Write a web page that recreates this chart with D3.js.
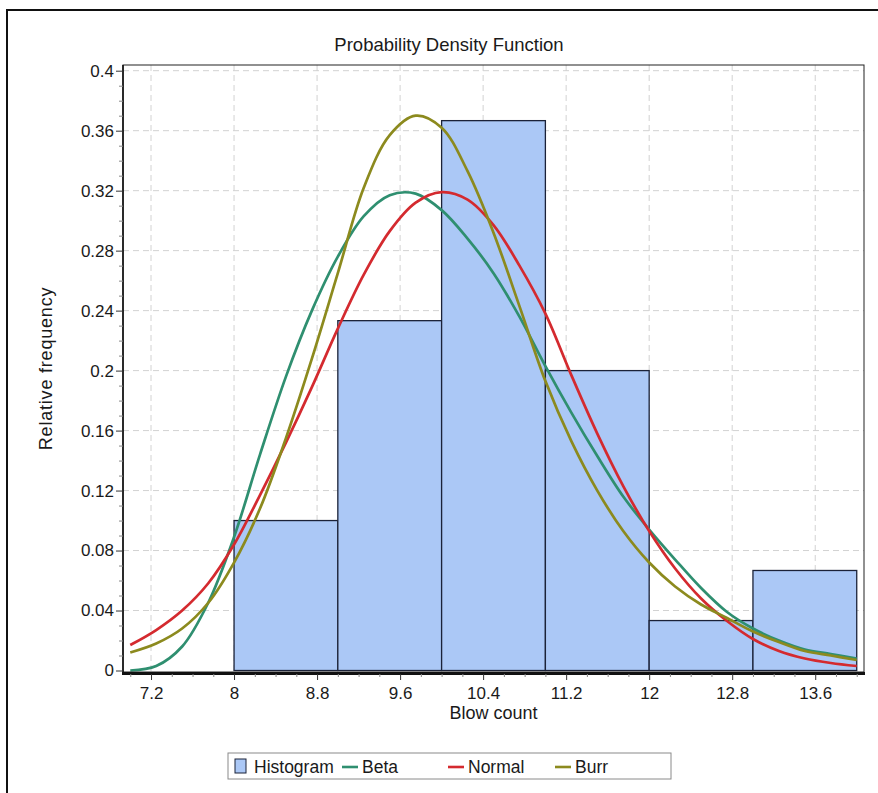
<!DOCTYPE html>
<html>
<head>
<meta charset="utf-8">
<script src="https://cdn.jsdelivr.net/npm/d3@7"></script>
<style>
  body { margin: 0; background: #fff; }
  text { font-family: "Liberation Sans", Arial, sans-serif; fill: #1a1a1a; }
</style>
</head>
<body>
<script>
// histogram bins (left edge, width 1) and relative frequencies
var binStarts = [7, 8, 9, 10, 11, 12, 13]
var binFreq = [0, 0.1, 0.2333, 0.3667, 0.2, 0.0333, 0.0667]
var binWidth = 1

// fitted density curves
var curveX = [7, 7.25, 7.5, 7.75, 8, 8.25, 8.5, 8.75, 9, 9.25, 9.5, 9.75, 10, 10.25, 10.5,
  10.75, 11, 11.25, 11.5, 11.75, 12, 12.25, 12.5, 12.75, 13, 13.25, 13.5, 13.75, 14]
var betaY = [0.000, 0.003, 0.016, 0.045, 0.089, 0.144, 0.196, 0.240, 0.276, 0.303, 0.317, 0.318, 0.307, 0.288, 0.265,
  0.236, 0.203, 0.172, 0.143, 0.116, 0.094, 0.074, 0.055, 0.039, 0.028, 0.020, 0.014, 0.011, 0.008]
var normalY = [0.017, 0.027, 0.040, 0.058, 0.084, 0.117, 0.152, 0.189, 0.228, 0.264, 0.293, 0.312, 0.319, 0.314, 0.297,
  0.270, 0.238, 0.197, 0.158, 0.123, 0.093, 0.068, 0.048, 0.033, 0.021, 0.013, 0.008, 0.005, 0.003]
var burrY = [0.012, 0.018, 0.028, 0.045, 0.072, 0.108, 0.155, 0.208, 0.265, 0.322, 0.357, 0.370, 0.362, 0.333, 0.292,
  0.243, 0.193, 0.153, 0.120, 0.093, 0.072, 0.056, 0.044, 0.035, 0.026, 0.019, 0.013, 0.010, 0.007]

var xTicks = [7.2, 8, 8.8, 9.6, 10.4, 11.2, 12, 12.8, 13.6]
var yTicks = [0, 0.04, 0.08, 0.12, 0.16, 0.2, 0.24, 0.28, 0.32, 0.36, 0.4]

var seriesNames = ['Beta', 'Normal', 'Burr']
var seriesColors = ['#2f8f70', '#d42a2f', '#8c8a1e']
var histColor = '#abc8f6'

var W = 878, H = 793
var pL = 123, pT = 65, pR = 864, pB = 672

var svg = d3.select('body').append('svg').attr('width', W).attr('height', H)

// outer frame
svg.append('rect').attr('x', 7).attr('y', 10).attr('width', 900).attr('height', 900)
  .attr('fill', '#fff').attr('stroke', '#111').attr('stroke-width', 2)

var x = d3.scaleLinear().domain([6.93, 14.07]).range([pL, pR])
var y = d3.scaleLinear().domain([-0.001, 0.4038]).range([pB, pT])

svg.append('text').attr('x', 449).attr('y', 51).attr('text-anchor', 'middle')
  .style('font-size', '18.5px').text('Probability Density Function')

// grid
var grid = svg.append('g').attr('stroke', '#d2d2d2').attr('stroke-dasharray', '6,4')
grid.selectAll('.gy').data(yTicks.filter(d => d > 0)).join('line')
  .attr('x1', pL).attr('x2', pR).attr('y1', d => y(d)).attr('y2', d => y(d))
grid.selectAll('.gx').data(xTicks).join('line')
  .attr('x1', d => x(d)).attr('x2', d => x(d)).attr('y1', pT).attr('y2', pB)

// histogram
svg.append('g').selectAll('rect')
  .data(binStarts.map((b, i) => ({ b: b, f: binFreq[i] })))
  .join('rect')
  .attr('x', d => x(d.b))
  .attr('width', d => x(d.b + binWidth) - x(d.b))
  .attr('y', d => y(d.f))
  .attr('height', d => y(0) - y(d.f))
  .attr('fill', histColor)
  .attr('stroke', '#1b2238')
  .attr('stroke-width', 1.3)

// curves
svg.append('clipPath').attr('id', 'clip').append('rect')
  .attr('x', pL).attr('y', pT).attr('width', pR - pL).attr('height', pB - pT)
var line = d3.line().x(d => x(d[0])).y(d => y(d[1])).curve(d3.curveCatmullRom.alpha(0.5))
var curves = [betaY, normalY, burrY]
svg.append('g').attr('clip-path', 'url(#clip)')
  .selectAll('path')
  .data(curves)
  .join('path')
  .attr('d', d => line(curveX.map((v, i) => [v, d[i]])))
  .attr('fill', 'none')
  .attr('stroke', (d, i) => seriesColors[i])
  .attr('stroke-width', 2.7)

// plot border
svg.append('rect').attr('x', pL).attr('y', pT).attr('width', pR - pL).attr('height', pB - pT)
  .attr('fill', 'none').attr('stroke', '#222').attr('stroke-width', 1)
svg.append('line').attr('x1', pL).attr('x2', pL).attr('y1', pT).attr('y2', pB + 3)
  .attr('stroke', '#111').attr('stroke-width', 1.6)
svg.append('line').attr('x1', pL - 1).attr('x2', pR + 1).attr('y1', pB + 1.5).attr('y2', pB + 1.5)
  .attr('stroke', '#111').attr('stroke-width', 3)

// axes
var yAxis = svg.append('g').attr('transform', 'translate(' + pL + ',0)')
  .call(d3.axisLeft(y).tickValues(yTicks).tickSize(7).tickPadding(2)
    .tickFormat(d => String(+d.toFixed(2))))
var yMinor = svg.append('g').attr('transform', 'translate(' + pL + ',0)')
  .call(d3.axisLeft(y).tickValues(d3.range(0, 0.401, 0.01).filter((d, i) => i % 4 != 0))
    .tickSize(4).tickFormat(''))
var xAxis = svg.append('g').attr('transform', 'translate(0,' + (pB + 2) + ')')
  .call(d3.axisBottom(x).tickValues(xTicks).tickSize(6).tickPadding(7)
    .tickFormat(d => String(+d.toFixed(1))))
var xMinor = svg.append('g').attr('transform', 'translate(0,' + (pB + 2) + ')')
  .call(d3.axisBottom(x).tickValues(d3.range(7, 14.01, 0.2).filter(d => xTicks.indexOf(+d.toFixed(1)) < 0))
    .tickSize(3).tickFormat(''))
;[yAxis, yMinor, xAxis, xMinor].forEach(g => {
  g.select('.domain').remove()
  g.selectAll('line').attr('stroke', '#333')
  g.selectAll('text').style('font-size', '17px').attr('fill', '#1a1a1a')
})
xMinor.selectAll('line').attr('stroke', '#888')
yMinor.selectAll('line').attr('stroke', '#888')

// axis titles
svg.append('text').attr('x', (pL + pR) / 2).attr('y', 719).attr('text-anchor', 'middle')
  .style('font-size', '18px').text('Blow count')
svg.append('text').attr('transform', 'translate(52,' + (pT + pB) / 2 + ') rotate(-90)')
  .attr('text-anchor', 'middle').style('font-size', '18px').style('letter-spacing', '0.8px')
  .text('Relative frequency')

// legend
var lg = svg.append('g')
lg.append('rect').attr('x', 228).attr('y', 753).attr('width', 443).attr('height', 26)
  .attr('fill', '#fff').attr('stroke', '#8a8a8a')
lg.append('rect').attr('x', 235).attr('y', 759).attr('width', 11).attr('height', 14)
  .attr('fill', histColor).attr('stroke', '#1b2238')
lg.append('text').attr('x', 254).attr('y', 773).style('font-size', '17.5px').text('Histogram')
var itemX = [342, 448, 555]
seriesNames.forEach((n, i) => {
  lg.append('line').attr('x1', itemX[i]).attr('x2', itemX[i] + 16).attr('y1', 767).attr('y2', 767)
    .attr('stroke', seriesColors[i]).attr('stroke-width', 2.6)
  lg.append('text').attr('x', itemX[i] + 20).attr('y', 773).style('font-size', '17.5px').text(n)
})
</script>
</body>
</html>
